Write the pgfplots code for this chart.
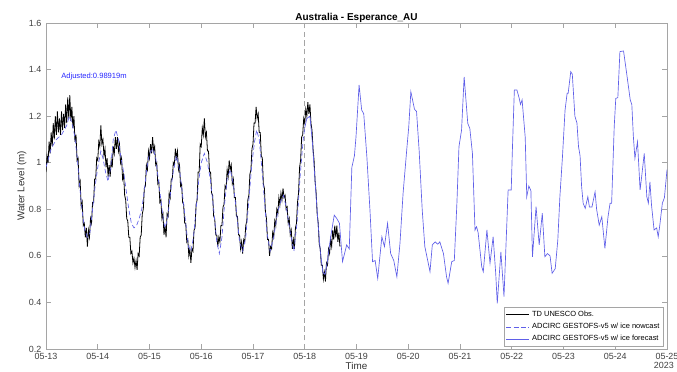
\documentclass[border=0pt]{standalone}
\usepackage{pgfplots}
\pgfplotsset{compat=1.18}
\usepackage{fontspec}
\setmainfont{Liberation Sans}
\definecolor{modelblue}{RGB}{95,95,232}
\definecolor{axgray}{RGB}{165,165,165}
\begin{document}
\begin{tikzpicture}
\useasboundingbox (0,0) rectangle (507.75pt,278.25pt);
\begin{axis}[
  at={(34.5pt,16.5pt)}, anchor=south west,
  scale only axis, width=465.75pt, height=244.5pt,
  xmin=0, xmax=12, ymin=0.2, ymax=1.6,
  xtick={0,1,2,3,4,5,6,7,8,9,10,11,12},
  xticklabels={05-13,05-14,05-15,05-16,05-17,05-18,05-19,05-20,05-21,05-22,05-23,05-24,05-25},
  ytick={0.2,0.4,0.6,0.8,1.0,1.2,1.4,1.6},
  yticklabels={0.2,0.4,0.6,0.8,1,1.2,1.4,1.6},
  tick align=inside, major tick length=4pt,
  tick style={axgray, line width=0.5pt},
  axis line style={axgray, line width=0.6pt},
  ticklabel style={font=\fontsize{6.7}{8}\selectfont, text=black!75},
  /pgf/number format/assume math mode=true,
  xlabel={Time},
  xlabel style={font=\fontsize{7.4}{9}\selectfont, text=black!80, yshift=5pt},
  ylabel={Water Level (m)},
  ylabel style={font=\fontsize{7.4}{9}\selectfont, text=black!80, yshift=-5pt},
  legend style={at={(1,0)}, anchor=south east, xshift=-2.5pt, yshift=1.5pt,
    font=\fontsize{5.6}{6.6}\selectfont, draw=axgray, inner sep=1pt,
    row sep=-0.5pt, cells={anchor=west}},
  legend cell align=left,
  clip mode=individual,
]
\addplot[axgray, dashed, dash pattern=on 4pt off 2.5pt, line width=0.6pt, forget plot] coordinates {(5,0.2) (5,1.6)};

\addplot[black, line width=0.6pt] coordinates {
(0.00,0.96)(0.02,1.03)(0.04,1.00)(0.06,1.09)(0.08,1.04)(0.10,1.13)(0.12,1.07)(0.14,1.17)(0.16,1.10)(0.18,1.20)
(0.20,1.12)(0.22,1.22)(0.24,1.13)(0.26,1.19)(0.28,1.12)(0.30,1.22)(0.32,1.14)(0.34,1.21)(0.36,1.15)(0.38,1.25)
(0.40,1.17)(0.42,1.28)(0.44,1.19)(0.46,1.29)(0.48,1.18)(0.50,1.24)(0.52,1.15)(0.54,1.20)(0.56,1.09)(0.58,1.12)
(0.60,1.01)(0.62,1.02)(0.64,0.90)(0.66,0.92)(0.68,0.81)(0.70,0.83)(0.72,0.73)(0.74,0.74)(0.76,0.68)(0.78,0.72)
(0.80,0.64)(0.82,0.71)(0.84,0.68)(0.86,0.76)(0.88,0.74)(0.90,0.83)(0.92,0.83)(0.94,0.93)(0.96,0.93)(0.98,1.02)
(1.00,1.01)(1.02,1.09)(1.04,1.07)(1.06,1.16)(1.08,1.08)(1.10,1.10)(1.12,1.03)(1.14,1.06)(1.16,0.98)(1.18,1.02)
(1.20,0.94)(1.22,0.99)(1.24,0.94)(1.26,1.01)(1.28,0.98)(1.30,1.07)(1.32,1.04)(1.34,1.11)(1.36,1.06)(1.38,1.11)
(1.40,1.05)(1.42,1.08)(1.44,1.00)(1.46,1.02)(1.48,0.93)(1.50,0.95)(1.52,0.86)(1.54,0.84)(1.56,0.76)(1.58,0.75)
(1.60,0.68)(1.62,0.68)(1.64,0.61)(1.66,0.62)(1.68,0.57)(1.70,0.59)(1.72,0.55)(1.74,0.58)(1.76,0.54)(1.78,0.61)
(1.80,0.60)(1.82,0.68)(1.84,0.69)(1.86,0.78)(1.88,0.80)(1.90,0.89)(1.92,0.90)(1.94,0.99)(1.96,0.97)(1.98,1.05)
(2.00,1.02)(2.02,1.08)(2.04,1.04)(2.06,1.11)(2.08,1.05)(2.10,1.07)(2.12,0.99)(2.14,1.00)(2.16,0.91)(2.18,0.92)
(2.20,0.83)(2.22,0.84)(2.24,0.76)(2.26,0.78)(2.28,0.69)(2.30,0.73)(2.32,0.68)(2.34,0.78)(2.36,0.77)(2.38,0.87)
(2.40,0.85)(2.42,0.93)(2.44,0.93)(2.46,1.00)(2.48,0.99)(2.50,1.06)(2.52,1.02)(2.54,1.05)(2.56,0.97)(2.58,0.99)
(2.60,0.90)(2.62,0.91)(2.64,0.83)(2.66,0.82)(2.68,0.74)(2.70,0.74)(2.72,0.66)(2.74,0.67)(2.76,0.60)(2.78,0.63)
(2.80,0.57)(2.82,0.63)(2.84,0.62)(2.86,0.71)(2.88,0.72)(2.90,0.82)(2.92,0.84)(2.94,0.96)(2.96,0.96)(2.98,1.08)
(3.00,1.07)(3.02,1.15)(3.04,1.12)(3.06,1.19)(3.08,1.11)(3.10,1.13)(3.12,1.05)(3.14,1.05)(3.16,0.96)(3.18,0.96)
(3.20,0.87)(3.22,0.86)(3.24,0.77)(3.26,0.76)(3.28,0.69)(3.30,0.69)(3.32,0.64)(3.34,0.68)(3.36,0.66)(3.38,0.73)
(3.40,0.73)(3.42,0.81)(3.44,0.82)(3.46,0.90)(3.48,0.89)(3.50,0.97)(3.52,0.94)(3.54,1.01)(3.56,0.97)(3.58,0.99)
(3.60,0.91)(3.62,0.93)(3.64,0.85)(3.66,0.85)(3.68,0.77)(3.70,0.77)(3.72,0.69)(3.74,0.69)(3.76,0.63)(3.78,0.66)
(3.80,0.61)(3.82,0.67)(3.84,0.66)(3.86,0.73)(3.88,0.75)(3.90,0.84)(3.92,0.86)(3.94,0.95)(3.96,0.97)(3.98,1.06)
(4.00,1.08)(4.02,1.17)(4.04,1.17)(4.06,1.24)(4.08,1.19)(4.10,1.21)(4.12,1.13)(4.14,1.13)(4.16,1.03)(4.18,1.02)
(4.20,0.91)(4.22,0.89)(4.24,0.79)(4.26,0.76)(4.28,0.67)(4.30,0.67)(4.32,0.60)(4.34,0.64)(4.36,0.63)(4.38,0.70)
(4.40,0.68)(4.42,0.75)(4.44,0.73)(4.46,0.80)(4.48,0.78)(4.50,0.85)(4.52,0.82)(4.54,0.87)(4.56,0.84)(4.58,0.89)
(4.60,0.85)(4.62,0.86)(4.64,0.80)(4.66,0.81)(4.68,0.74)(4.70,0.76)(4.72,0.69)(4.74,0.71)(4.76,0.63)(4.78,0.67)
(4.80,0.63)(4.82,0.72)(4.84,0.74)(4.86,0.83)(4.88,0.87)(4.90,0.98)(4.92,1.01)(4.94,1.11)(4.96,1.12)(4.98,1.19)
(5.00,1.17)(5.02,1.23)(5.04,1.20)(5.06,1.26)(5.08,1.21)(5.10,1.25)(5.12,1.17)(5.14,1.14)(5.16,1.06)(5.18,1.01)
(5.20,0.92)(5.22,0.87)(5.24,0.78)(5.26,0.74)(5.28,0.65)(5.30,0.63)(5.32,0.56)(5.34,0.56)(5.36,0.50)(5.38,0.53)
(5.40,0.49)(5.42,0.57)(5.44,0.56)(5.46,0.63)(5.48,0.61)(5.50,0.67)(5.52,0.64)(5.54,0.71)(5.56,0.67)(5.58,0.73)
(5.60,0.68)(5.62,0.73)(5.64,0.66)(5.66,0.70)(5.68,0.64)
};
\addlegendentry{TD UNESCO Obs.}

\addplot[modelblue, line width=0.5pt, dash pattern=on 3.5pt off 2pt] coordinates {
(0.00,0.98)(0.10,1.06)(0.20,1.10)(0.30,1.12)(0.40,1.16)(0.45,1.20)(0.50,1.17)(0.55,1.12)(0.60,1.03)(0.65,0.90)
(0.70,0.79)(0.75,0.71)(0.80,0.68)(0.85,0.70)(0.90,0.80)(0.95,0.90)(1.00,0.98)(1.06,1.05)(1.10,1.02)(1.15,0.96)
(1.20,0.92)(1.25,0.98)(1.30,1.10)(1.35,1.14)(1.40,1.10)(1.45,1.02)(1.50,0.96)(1.55,0.88)(1.60,0.80)(1.65,0.74)
(1.70,0.72)(1.75,0.73)(1.80,0.76)(1.85,0.80)(1.90,0.88)(1.95,0.98)(2.00,1.04)(2.07,1.06)(2.12,1.02)(2.17,0.93)
(2.22,0.84)(2.27,0.75)(2.30,0.72)(2.35,0.76)(2.40,0.86)(2.45,0.95)(2.52,1.03)(2.58,0.97)(2.64,0.86)(2.70,0.74)
(2.75,0.64)(2.80,0.62)(2.85,0.68)(2.90,0.80)(2.95,0.92)(3.00,1.00)(3.06,1.04)(3.12,1.00)(3.18,0.92)(3.24,0.80)
(3.30,0.66)(3.35,0.61)(3.40,0.68)(3.45,0.82)(3.50,0.93)(3.56,0.97)(3.62,0.91)(3.68,0.79)(3.74,0.66)(3.80,0.62)
(3.86,0.68)(3.92,0.84)(3.98,1.00)(4.03,1.09)(4.07,1.14)(4.12,1.10)(4.17,0.98)(4.22,0.84)(4.27,0.70)(4.33,0.62)
(4.40,0.68)(4.47,0.78)(4.53,0.83)(4.59,0.86)(4.65,0.80)(4.72,0.70)(4.79,0.62)(4.85,0.74)(4.91,0.94)(4.97,1.10)
(5.00,1.15)
};
\addlegendentry{ADCIRC GESTOFS-v5 w/ ice nowcast}

\addplot[modelblue, line width=0.5pt] coordinates {
(5.00,1.15)(5.04,1.19)(5.10,1.20)(5.15,1.08)(5.20,0.92)(5.25,0.76)(5.30,0.62)(5.35,0.53)(5.39,0.52)(5.44,0.58)
(5.50,0.68)(5.57,0.775)(5.62,0.76)(5.67,0.74)(5.73,0.575)(5.81,0.647)(5.86,0.63)(5.91,0.98)(5.96,1.03)(5.99,1.11)
(6.05,1.334)(6.10,1.226)(6.14,1.21)(6.20,1.026)(6.26,0.797)(6.31,0.575)(6.36,0.58)(6.41,0.503)(6.49,0.682)(6.54,0.64)
(6.60,0.74)(6.66,0.61)(6.72,0.58)(6.78,0.51)(6.84,0.654)(6.90,0.868)(6.97,1.054)(7.01,1.155)(7.05,1.305)(7.12,1.23)
(7.16,1.22)(7.21,1.054)(7.27,0.797)(7.32,0.64)(7.376,0.58)(7.42,0.532)(7.465,0.647)(7.52,0.66)(7.57,0.65)(7.61,0.66)
(7.68,0.61)(7.74,0.51)(7.77,0.482)(7.84,0.575)(7.89,0.58)(7.94,0.826)(7.98,1.069)(8.03,1.14)(8.08,1.369)(8.15,1.169)
(8.19,1.147)(8.24,1.04)(8.29,0.711)(8.32,0.725)(8.35,0.70)(8.42,0.553)(8.45,0.532)(8.52,0.711)(8.58,0.568)(8.64,0.682)
(8.69,0.525)(8.72,0.396)(8.79,0.617)(8.85,0.425)(8.90,0.711)(8.93,0.883)(8.99,0.883)(9.01,1.04)(9.05,1.312)(9.10,1.312)
(9.14,1.28)(9.17,1.25)(9.20,1.27)(9.26,1.11)(9.29,0.854)(9.33,0.90)(9.37,0.88)(9.40,0.596)(9.47,0.811)(9.53,0.647)
(9.59,0.783)(9.64,0.596)(9.69,0.61)(9.74,0.60)(9.78,0.525)(9.84,0.545)(9.89,0.668)(9.93,0.854)(9.98,1.026)(10.03,1.226)
(10.07,1.298)(10.09,1.298)(10.14,1.391)(10.17,1.38)(10.22,1.20)(10.26,1.17)(10.29,1.069)(10.32,1.03)(10.35,0.897)(10.38,0.826)
(10.42,0.804)(10.47,0.854)(10.50,0.81)(10.55,0.81)(10.61,0.875)(10.64,0.80)(10.69,0.732)(10.74,0.768)(10.80,0.632)(10.86,0.768)
(10.90,0.826)(10.93,0.826)(10.98,1.155)(11.01,1.276)(11.05,1.28)(11.09,1.477)(11.16,1.48)(11.22,1.384)(11.29,1.269)(11.32,1.25)
(11.35,1.112)(11.38,1.019)(11.43,1.09)(11.48,0.883)(11.51,0.94)(11.56,1.04)(11.61,0.854)(11.64,0.826)(11.67,0.918)(11.70,0.82)
(11.75,0.711)(11.80,0.72)(11.83,0.682)(11.86,0.73)(11.91,0.826)(11.95,0.85)(12.00,0.97)
};
\addlegendentry{ADCIRC GESTOFS-v5 w/ ice forecast}

\node[anchor=west, text=blue!85!white, font=\fontsize{5.7}{7}\selectfont, inner sep=0pt] at (axis cs:0.29,1.368) {Adjusted:0.98919m};
\node[anchor=base, font=\bfseries\fontsize{7.5}{9}\selectfont, inner sep=0pt] at ([yshift=2pt]rel axis cs:0.5,1) {Australia - Esperance\_AU};
\node[font=\fontsize{6.7}{8}\selectfont, text=black!75] at ([yshift=-12.5pt]axis cs:11.94,0.2) {2023};
\end{axis}
\end{tikzpicture}
\end{document}
